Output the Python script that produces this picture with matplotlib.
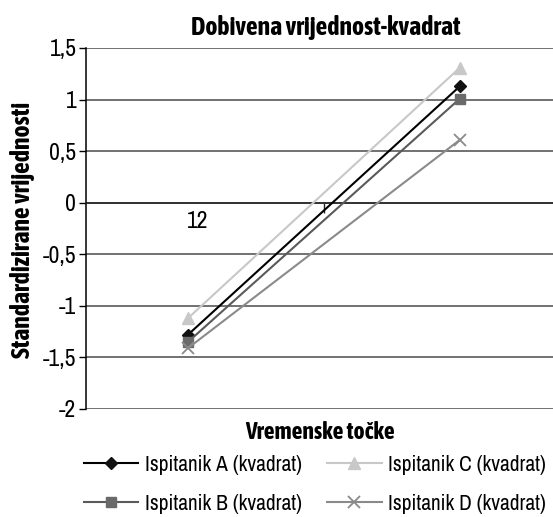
import matplotlib
matplotlib.use("Agg")
import matplotlib.pyplot as plt
from matplotlib.ticker import FuncFormatter

plt.rcParams['font.family'] = ['Archivo Narrow', 'DejaVu Sans']
plt.rcParams['font.stretch'] = 'condensed'
BOLD = ['Asap Condensed', 'DejaVu Sans']

categories = ['1', '2']
x_pos = [1, 2]
series_names = ['Ispitanik A (kvadrat)', 'Ispitanik B (kvadrat)',
                'Ispitanik C (kvadrat)', 'Ispitanik D (kvadrat)']
vals_A = [-1.28, 1.13]
vals_B = [-1.35, 1.01]
vals_C = [-1.12, 1.31]
vals_D = [-1.41, 0.61]
y_ticks = [-2, -1.5, -1, -0.5, 0, 0.5, 1, 1.5]

fig = plt.figure(figsize=(5.53, 5.17), dpi=100)
ax = fig.add_axes([0.1555, 0.2089, 0.8445, 0.6983])

styles = [
    dict(color='#000000', marker='D', markersize=6.5, mfc='#111111', mec='#111111'),
    dict(color='#5a5a5a', marker='s', markersize=7, mfc='#6a6a6a', mec='#6a6a6a'),
    dict(color='#c8c8c8', marker='^', markersize=9, mfc='#c8c8c8', mec='#c8c8c8'),
    dict(color='#8a8a8a', marker='x', markersize=9, mew=1.3, mfc='#8a8a8a', mec='#8a8a8a'),
]
for name, vals, st in zip(series_names, [vals_A, vals_B, vals_C, vals_D], styles):
    ax.plot(x_pos, vals, lw=1.5, label=name, zorder=3, **st)

ax.set_ylim(-2, 1.5)
ax.set_xlim(0.625, 2.342)
ax.set_yticks(y_ticks)
ax.yaxis.set_major_formatter(FuncFormatter(lambda v, p: ('%g' % v).replace('.', ',')))
ax.tick_params(axis='y', direction='out', length=5, width=1, labelsize=17, pad=2)
ax.grid(axis='y', color='#4a4a4a', lw=1.1)
ax.set_axisbelow(True)

for s in ['top', 'right']:
    ax.spines[s].set_visible(False)
ax.spines['left'].set_color('#000000')
ax.spines['left'].set_linewidth(1.1)
ax.spines['bottom'].set_position(('data', 0))
ax.spines['bottom'].set_color('#222222')
ax.spines['bottom'].set_linewidth(1.1)
ax.set_xticks([1.5])
ax.set_xticklabels([''])
ax.tick_params(axis='x', direction='out', length=7, width=1, color='#222222')

ax.text(1.035, -0.18, ''.join(categories), fontsize=17, ha='center', va='center')

fig.text(0.589, 0.947, 'Dobivena vrijednost-kvadrat', fontsize=18.5, fontweight='bold',
         family=BOLD, ha='center', va='center')
fig.text(0.041, 0.555, 'Standardizirane vrijednosti', fontsize=18.5, fontweight='bold',
         family=BOLD, ha='center', va='center', rotation=90)
fig.text(0.578, 0.163, 'Vremenske točke', fontsize=17, fontweight='bold', family=BOLD,
         ha='center', va='center')

leg = ax.legend(loc='upper center', bbox_to_anchor=(0.49, -0.073), ncol=2, frameon=False,
                fontsize=15.4, handlelength=2.55, columnspacing=1.2, labelspacing=0.9,
                handletextpad=0.3)

fig.savefig('out.png', dpi=100)
